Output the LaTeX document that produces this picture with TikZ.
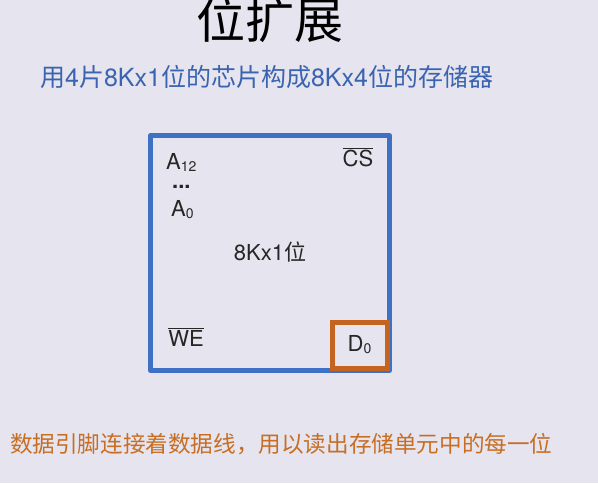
\documentclass[tikz,border=0pt]{standalone}
\usepackage{fontspec}
\setmainfont{TeX Gyre Heros}
\newfontfamily\cjk{Noto Sans CJK SC}
\definecolor{bg}{RGB}{230,228,238}
\definecolor{chipblue}{RGB}{62,112,196}
\definecolor{subblue}{RGB}{58,100,176}
\definecolor{dorange}{RGB}{196,100,30}
\definecolor{torange}{RGB}{200,110,35}
\tikzset{
  lbl/.style={inner sep=0pt, font=\fontsize{22}{24}\selectfont, text=black!85},
}
\newcommand{\subn}[1]{\raisebox{-2pt}{\fontsize{14}{14}\selectfont #1}}
\begin{document}
\begin{tikzpicture}[x=1pt,y=-1pt]
\fill[bg] (0,0) rectangle (598,483);
\useasboundingbox (0,0) rectangle (598,483);
\node[inner sep=0pt, font=\cjk\fontsize{49}{50}\selectfont] (title) at (270,20) {位扩展};
\node[inner sep=0pt, anchor=west, text=subblue, font=\fontsize{25}{27}\selectfont] (sub) at (40,77)
  {{\cjk 用}4{\cjk 片}8Kx1{\cjk 位的芯片构成}8Kx4{\cjk 位的存储器}};
\draw[chipblue, line width=5pt, line join=round] (150.5,135.5) rectangle (389.5,370.5);
\draw[dorange, line width=5pt] (332,322) rectangle (387,368) node[midway, lbl] (d0) {D\subn{0}};
\node[lbl, anchor=west] (a12) at (166,162) {A\subn{12}};
\node[lbl, anchor=base west] (dots) at (172,188) {\bfseries ...};
\node[lbl, anchor=west] (a0) at (171,210) {A\subn{0}};
\node[lbl] (cs) at (358,157) {$\overline{\hbox{CS}}$};
\node[lbl] (chip) at (270,252) {8Kx1{\cjk 位}};
\node[lbl] (we) at (186,337) {$\overline{\hbox{WE}}$};
\node[inner sep=0pt, anchor=west, text=torange, font=\cjk\fontsize{22.6}{24}\selectfont] (note) at (10,444)
  {数据引脚连接着数据线，用以读出存储单元中的每一位};
\end{tikzpicture}
\end{document}
